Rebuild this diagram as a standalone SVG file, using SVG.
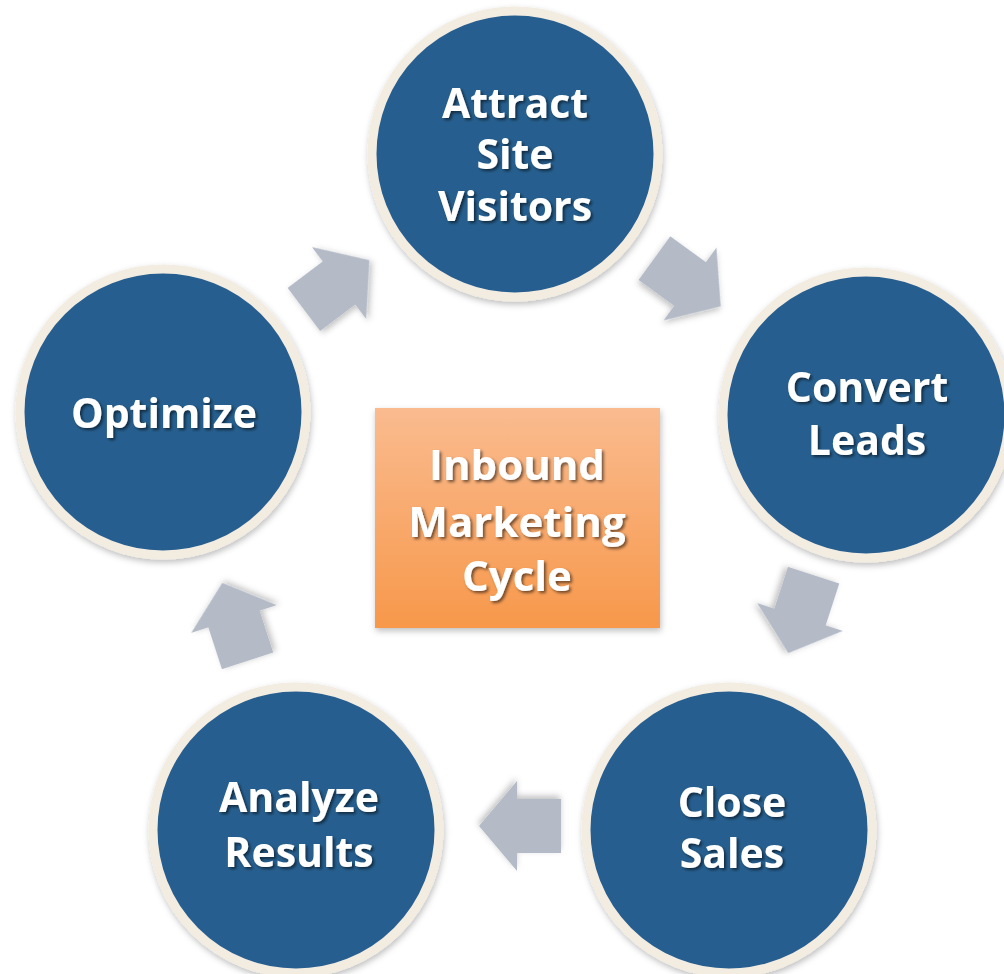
<svg xmlns="http://www.w3.org/2000/svg" width="1004" height="974" viewBox="0 0 1004 974">
<defs>
<linearGradient id="orange" x1="0" y1="0" x2="0" y2="1">
<stop offset="0" stop-color="#fabb8f"/>
<stop offset="1" stop-color="#f7984b"/>
</linearGradient>
<filter id="shadow" x="-20%" y="-20%" width="140%" height="140%">
<feDropShadow dx="1" dy="3" stdDeviation="3" flood-color="#000" flood-opacity="0.25"/>
</filter>
<filter id="tshadow" x="-20%" y="-20%" width="140%" height="140%">
<feDropShadow dx="2" dy="2" stdDeviation="1.5" flood-color="#000" flood-opacity="0.55"/>
</filter>
<path id="arrow" d="M38,0 L0,-45 L0,-27 L-44,-27 L-44,27 L0,27 L0,45 Z"/>
</defs>
<style>
.ring{fill:#285e8f;stroke:#f2ece1;stroke-width:9;filter:url(#shadow)}
.lbl{font-family:"Open Sans","Liberation Sans",sans-serif;font-weight:bold;font-size:41px;fill:#ffffff;text-anchor:middle;filter:url(#tshadow)}
.clbl{font-size:42px}
.arr{fill:#b4bbc7;filter:url(#shadow)}
</style>
<rect width="1004" height="974" fill="#ffffff"/>
<g id="connectors">
<use href="#arrow" class="arr" transform="translate(339,283) rotate(-37)"/>
<use href="#arrow" class="arr" transform="translate(690,284) rotate(36)"/>
<use href="#arrow" class="arr" transform="translate(800,617) rotate(108)"/>
<use href="#arrow" class="arr" transform="translate(517,826) rotate(180)"/>
<use href="#arrow" class="arr" transform="translate(234,619) rotate(-108)"/>
</g>
<g id="attract">
<circle class="ring" cx="515" cy="154" r="143"/>
<text class="lbl" x="515" y="118">Attract</text>
<text class="lbl" x="515" y="169">Site</text>
<text class="lbl" x="515" y="221">Visitors</text>
</g>
<g id="convert">
<circle class="ring" cx="866" cy="415" r="143"/>
<text class="lbl" x="867" y="402">Convert</text>
<text class="lbl" x="867" y="455">Leads</text>
</g>
<g id="close">
<circle class="ring" cx="729" cy="830" r="143"/>
<text class="lbl" x="732" y="817">Close</text>
<text class="lbl" x="732" y="868">Sales</text>
</g>
<g id="analyze">
<circle class="ring" cx="296" cy="830" r="143"/>
<text class="lbl" x="299" y="812">Analyze</text>
<text class="lbl" x="299" y="867">Results</text>
</g>
<g id="optimize">
<circle class="ring" cx="163" cy="412" r="143"/>
<text class="lbl" x="164" y="428">Optimize</text>
</g>
<g id="center">
<rect x="375" y="408" width="285" height="220" fill="url(#orange)" filter="url(#shadow)"/>
<text class="lbl clbl" x="517" y="480">Inbound</text>
<text class="lbl clbl" x="517" y="537">Marketing</text>
<text class="lbl clbl" x="517" y="591">Cycle</text>
</g>
</svg>
